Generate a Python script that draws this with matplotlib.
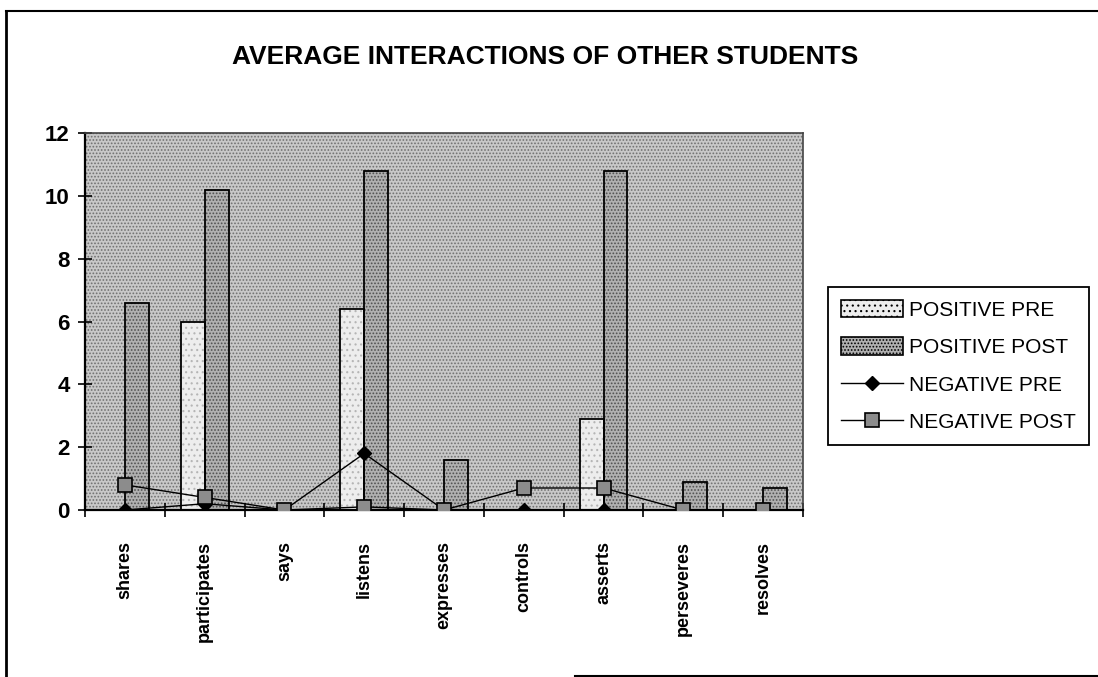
import numpy as np
import matplotlib.pyplot as plt
from matplotlib.lines import Line2D
from matplotlib.patches import Patch

plt.rcParams['font.family'] = ['Liberation Sans', 'DejaVu Sans']
plt.rcParams['hatch.linewidth'] = 0.8

categories = ['shares', 'participates', 'says', 'listens', 'expresses',
              'controls', 'asserts', 'perseveres', 'resolves']
positive_pre = [0, 6.0, 0, 6.4, 0, 0, 2.9, 0, 0]
positive_post = [6.6, 10.2, 0, 10.8, 1.6, 0, 10.8, 0.9, 0.7]
negative_pre = [0, 0.2, 0, 1.8, 0, 0, 0, 0, 0]
negative_post = [0.8, 0.4, 0, 0.1, 0, 0.7, 0.7, 0, 0]

fig = plt.figure(figsize=(10.98, 6.77), dpi=100)
ax = fig.add_axes([85/1098, 1 - 510/677, (803-85)/1098, (510-133)/677])

x = np.arange(len(categories))
w = 0.3

# halftone-like background
ax.set_facecolor('#c8c8c8')
bg = plt.Rectangle((-0.5, 0), 9, 12, facecolor='none', edgecolor='#707070',
                   hatch='.....', linewidth=0, zorder=0)
ax.add_patch(bg)

# bars: fill + dot texture, then outline on top
ax.bar(x - w/2, positive_pre, w, facecolor='#ededed', edgecolor='#b5b5b5',
       linewidth=0, hatch='...', zorder=2)
ax.bar(x - w/2, positive_pre, w, facecolor='none', edgecolor='black',
       linewidth=1.3, zorder=2.5)
ax.bar(x + w/2, positive_post, w, facecolor='#b0b0b0', edgecolor='#505050',
       linewidth=0, hatch='.....', zorder=2)
ax.bar(x + w/2, positive_post, w, facecolor='none', edgecolor='black',
       linewidth=1.3, zorder=2.5)

neg_pre, = ax.plot(x, negative_pre, color='black', linewidth=1, marker='D',
                   markersize=7, markerfacecolor='black', zorder=3)
neg_post, = ax.plot(x, negative_post, color='black', linewidth=1, marker='s',
                    markersize=10, markerfacecolor='#8c8c8c',
                    markeredgecolor='black', markeredgewidth=1.2, zorder=4)

ax.set_xlim(-0.5, 8.5)
ax.set_ylim(0, 12)
ax.set_yticks(range(0, 13, 2))
ax.tick_params(axis='y', direction='inout', length=10, width=1.2, labelsize=16, pad=6)
for t in ax.get_yticklabels():
    t.set_fontweight('bold')

ax.set_xticks(x)
ax.set_xticklabels(categories, rotation=90, fontsize=13, fontweight='bold')
ax.tick_params(axis='x', length=0, pad=22)
ax.set_xticks(np.arange(-0.5, 9, 1), minor=True)
ax.tick_params(axis='x', which='minor', direction='inout', length=10, width=1.2)

for s in ['top', 'right']:
    ax.spines[s].set_color('#444444')
    ax.spines[s].set_linewidth(1.2)
ax.spines['left'].set_linewidth(1.6)
ax.spines['bottom'].set_linewidth(1.6)

fig.text(545/1098, 1 - 57/677, 'AVERAGE INTERACTIONS OF OTHER STUDENTS',
         ha='center', va='center', fontsize=19, fontweight='bold')

# legend patches with the same texture as the bars
h_pre = Patch(facecolor='#ededed', edgecolor='black', hatch='...', linewidth=1.2)
h_post = Patch(facecolor='#b0b0b0', edgecolor='black', hatch='.....', linewidth=1.2)
leg = ax.legend([h_pre, h_post, neg_pre, neg_post],
                ['POSITIVE PRE', 'POSITIVE POST', 'NEGATIVE PRE', 'NEGATIVE POST'],
                loc='center left', bbox_to_anchor=(828/1098, 1 - 366/677),
                bbox_transform=fig.transFigure, fontsize=15, frameon=True,
                fancybox=False, edgecolor='black', framealpha=1,
                handlelength=3.0, handleheight=0.9, borderpad=0.6,
                labelspacing=0.85, handletextpad=0.3, borderaxespad=0)
leg.get_frame().set_linewidth(1.3)

# page border from the scan
fig.add_artist(Line2D([6/1098, 6/1098], [0, 1 - 11/677], color='black', linewidth=2))
fig.add_artist(Line2D([6/1098, 1], [1 - 11/677, 1 - 11/677], color='black', linewidth=1.5))
fig.add_artist(Line2D([575/1098, 1], [1 - 676/677, 1 - 676/677], color='black', linewidth=1.5))

fig.savefig('out.png', dpi=100)
